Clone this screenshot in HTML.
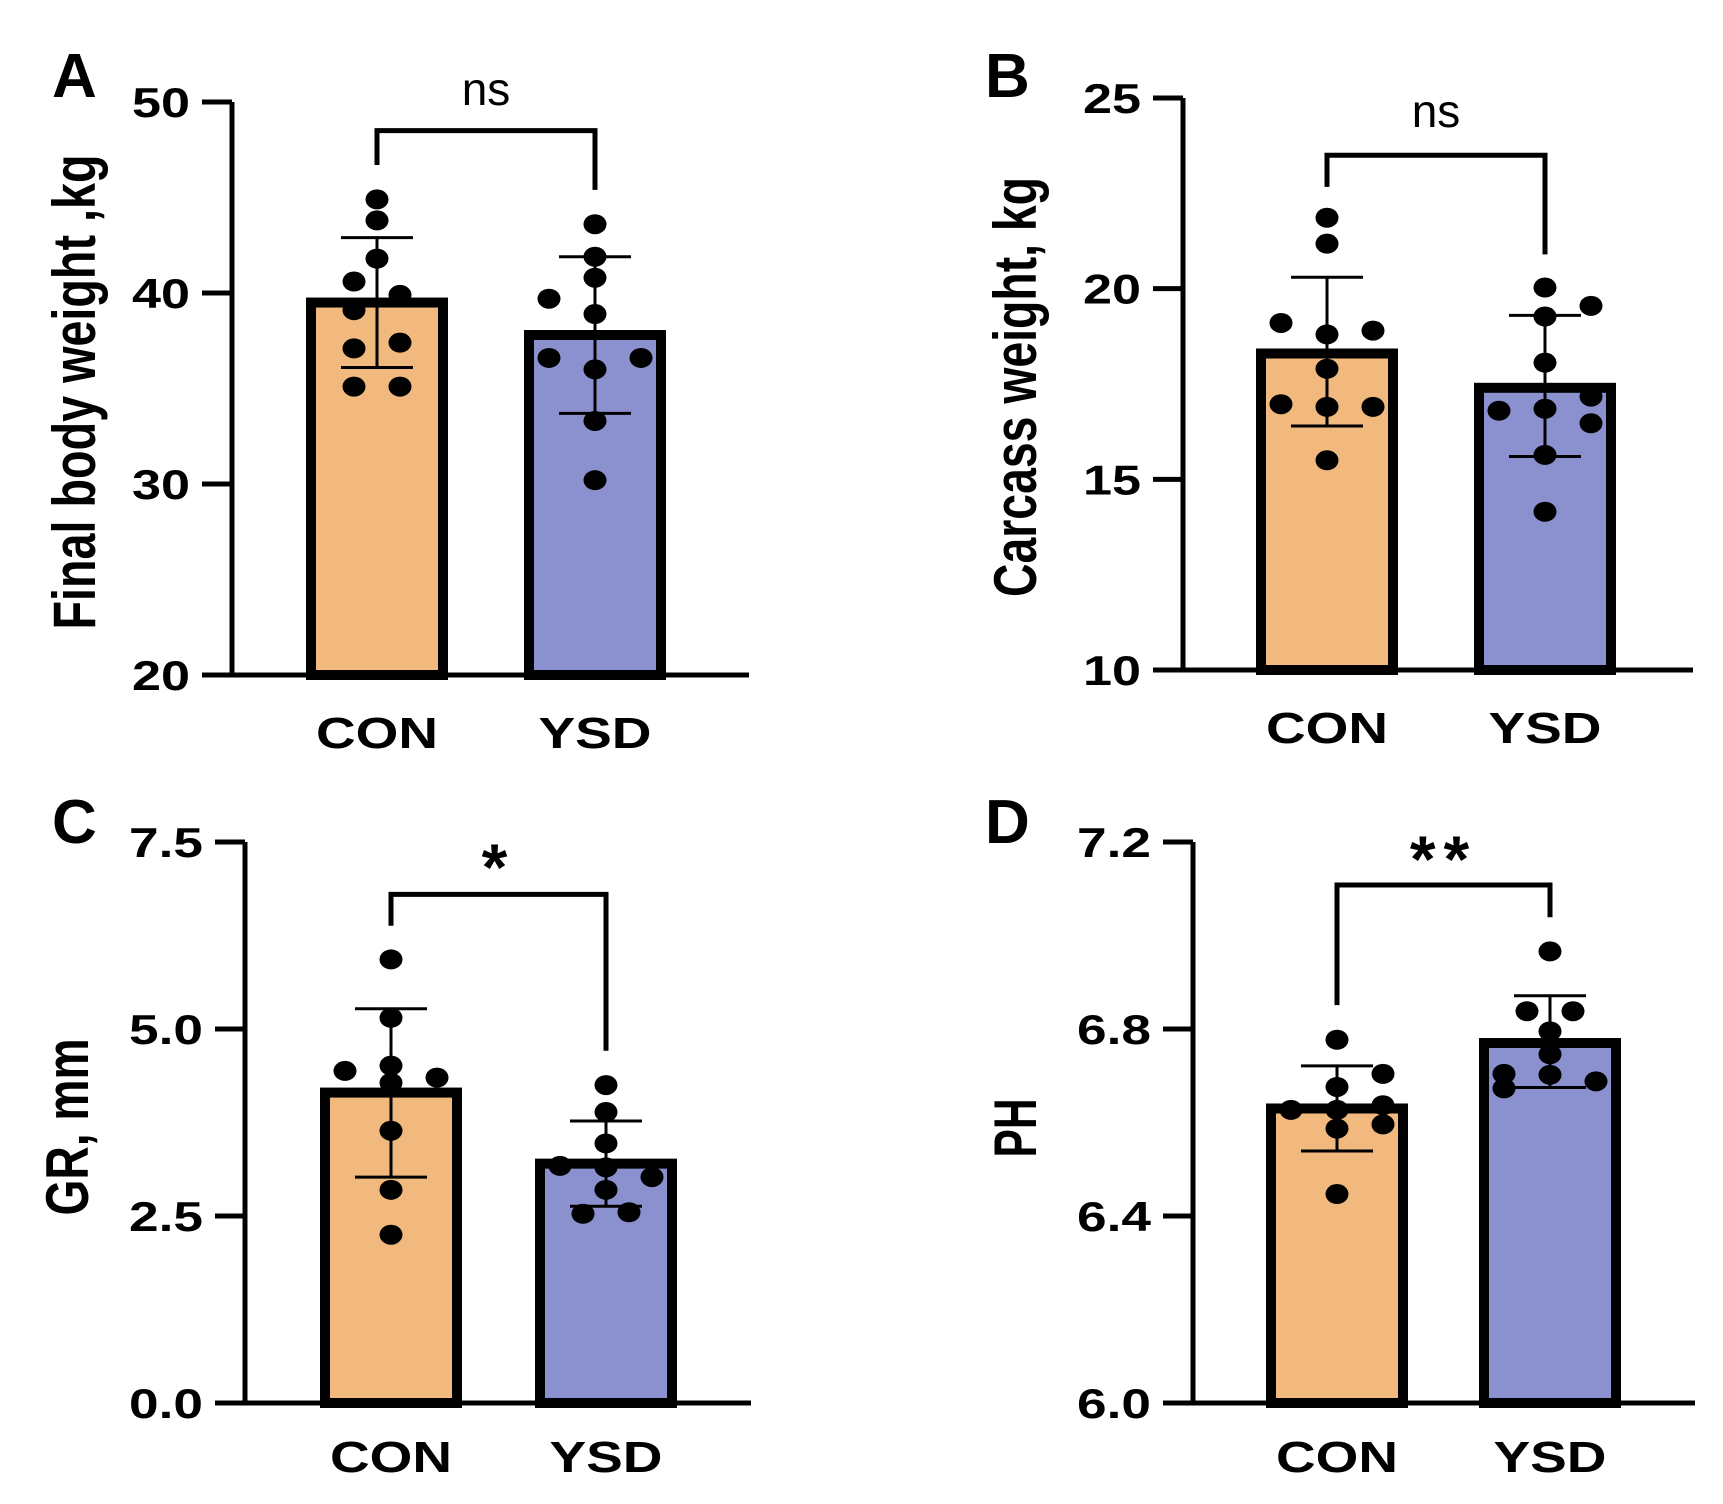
<!DOCTYPE html>
<html><head><meta charset="utf-8"><style>
html,body{margin:0;padding:0;background:#fff;}
svg{display:block;}
text{font-family:"Liberation Sans",Arial,sans-serif;fill:#000;}
</style></head><body>
<svg id="fig" width="1723" height="1504" viewBox="0 0 1723 1504" xmlns="http://www.w3.org/2000/svg"></svg>
<script>
// ---- data ----
const categories = ["CON", "YSD"];
// Panel A: Final body weight
const aTicks = [20, 30, 40, 50];
const aMeans = [39.5, 37.8];
const aSdHi = [42.9, 41.9];
const aSdLo = [36.1, 33.7];
const aConPts = [44.9, 43.8, 41.8, 40.6, 39.9, 39.1, 37.1, 37.4, 35.1, 35.1];
const aConJit = [0, 0, 0, -1, 1, -1, -1, 1, -1, 1];
const aYsdPts = [43.6, 41.9, 40.8, 39.7, 38.9, 36.6, 36.6, 36.0, 33.3, 30.2];
const aYsdJit = [0, 0, 0, -2, 0, -2, 2, 0, 0, 0];
const aBracket = [48.5, 46.7, 45.4];
// Panel B: Carcass weight
const bTicks = [10, 15, 20, 25];
const bMeans = [18.3, 17.4];
const bSdHi = [20.3, 19.3];
const bSdLo = [16.4, 15.6];
const bConPts = [21.86, 21.18, 19.1, 18.8, 18.9, 17.9, 16.97, 16.9, 16.9, 15.5];
const bConJit = [0, 0, -2, 0, 2, 0, -2, 0, 2, 0];
const bYsdPts = [20.03, 19.55, 19.27, 18.06, 17.17, 16.8, 16.85, 16.47, 15.64, 14.15];
const bYsdJit = [0, 2, 0, 0, 2, -2, 0, 2, 0, 0];
const bBracket = [23.5, 22.67, 20.9];
// Panel C: GR
const cTicks = [0, 2.5, 5.0, 7.5];
const cTickLabels = ["0.0", "2.5", "5.0", "7.5"];
const cMeans = [4.15, 3.2];
const cSdHi = [5.27, 3.77];
const cSdLo = [3.02, 2.63];
const cConPts = [5.93, 5.15, 4.44, 4.51, 4.35, 4.28, 3.64, 2.85, 2.25];
const cConJit = [0, 0, -2, 0, 2, 0, 0, 0, 0];
const cYsdPts = [4.25, 3.89, 3.47, 3.17, 3.15, 3.02, 2.85, 2.53, 2.55];
const cYsdJit = [0, 0, 0, -2, 0, 2, 0, -1, 1];
const cBracket = [6.8, 6.38, 4.71];
// Panel D: PH
const dTicks = [6.0, 6.4, 6.8, 7.2];
const dTickLabels = ["6.0", "6.4", "6.8", "7.2"];
const dMeans = [6.63, 6.77];
const dSdHi = [6.721, 6.871];
const dSdLo = [6.539, 6.675];
const dConPts = [6.777, 6.704, 6.676, 6.627, 6.627, 6.637, 6.596, 6.587, 6.447];
const dConJit = [0, 2, 0, -2, 0, 2, 2, 0, 0];
const dYsdPts = [6.966, 6.838, 6.838, 6.795, 6.746, 6.704, 6.702, 6.688, 6.673];
const dYsdJit = [0, -1, 1, 0, 0, -2, 0, 2, -2];
const dBracket = [7.108, 6.851, 7.039];

const NS = "http://www.w3.org/2000/svg";
const svg = document.getElementById('fig');
function mk(tag, attrs, parent) {
  const e = document.createElementNS(NS, tag);
  for (const k in attrs) e.setAttribute(k, attrs[k]);
  (parent || svg).appendChild(e);
  return e;
}
const COLORS = ["#F2B97E", "#8B91CE"];

function drawPanel(p) {
  const g = mk('g', {});
  
  
  const y = v => p.yBot - (v - p.min) / (p.max - p.min) * (p.yBot - p.yTop);
  const L = mk('text', {x: p.letterX, y: p.letterY, 'font-size': 62, 'font-weight': 'bold'}, g);
  L.textContent = p.letter;
  
  
  const yt = mk('text', {x: 0, y: 0, 'font-size': 60, 'font-weight': 'bold', 'text-anchor': 'middle',
    textLength: p.ytLen, lengthAdjust: 'spacingAndGlyphs',
    transform: `translate(${p.ytX},${p.ytY}) rotate(-90)`}, g);
  yt.textContent = p.yTitle;
  
  
  const halfW = 66;
  for (let i = 0; i < 2; i++) {
    const cx = p.cx[i];
    const top = y(p.means[i]);
    const r = mk('rect', {x: cx - halfW, y: top, width: halfW * 2, height: p.yBot - top,
      fill: COLORS[i], stroke: '#000', 'stroke-width': 10}, g);
    
    
  }
  const ax = mk('path', {d: `M${p.axisX},${p.yTop} V${p.yBot} H${p.xEnd}`, fill: 'none', stroke: '#000', 'stroke-width': 5}, g);
  
  
  p.ticks.forEach((t, i) => {
    const ty = y(t);
    const tk = mk('line', {x1: p.axisX - 30, x2: p.axisX, y1: ty, y2: ty, stroke: '#000', 'stroke-width': 5}, g);
    
    
    const lab = p.tickLabels ? p.tickLabels[i] : String(t);
    const tl = mk('text', {x: p.axisX - 42, y: ty + 15, 'font-size': 42, 'font-weight': 'bold', 'text-anchor': 'end',
      textLength: lab.length === 3 ? 74 : 58, lengthAdjust: 'spacingAndGlyphs'}, g);
    tl.textContent = lab;
    
    
  });
  for (let i = 0; i < 2; i++) {
    const cl = mk('text', {x: p.cx[i], y: p.catY, 'font-size': 44, 'font-weight': 'bold', 'text-anchor': 'middle',
      textLength: i === 0 ? 122 : 113, lengthAdjust: 'spacingAndGlyphs'}, g);
    cl.textContent = categories[i];
    
    
  }
  const sets = [[p.conPts, p.conJit], [p.ysdPts, p.ysdJit]];
  sets.forEach((s, i) => {
    s[0].forEach((v, j) => {
      const d = mk('ellipse', {cx: p.cx[i] + s[1][j] * 23, cy: y(v), rx: 11.5, ry: 10, fill: '#000'}, g);
      
      
    });
  });
  for (let i = 0; i < 2; i++) {
    const cx = p.cx[i], hi = y(p.sdHi[i]), lo = y(p.sdLo[i]);
    const eb = mk('path', {d: `M${cx},${hi} V${lo} M${cx - 36},${hi} H${cx + 36} M${cx - 36},${lo} H${cx + 36}`,
      fill: 'none', stroke: '#000', 'stroke-width': 3}, g);
    
    
  }
  const by = y(p.bracket[0]);
  const br = mk('path', {d: `M${p.cx[0]},${y(p.bracket[1])} V${by} H${p.cx[1]} V${y(p.bracket[2])}`,
    fill: 'none', stroke: '#000', 'stroke-width': 5}, g);
  
  
  const st = mk('text', {x: (p.cx[0] + p.cx[1]) / 2, y: p.sigY, 'font-size': p.sigSize,
    'font-weight': p.sig === 'ns' ? 'normal' : 'bold', 'text-anchor': 'middle'}, g);
  st.textContent = p.sig;
  if (p.sig !== 'ns') st.setAttribute('letter-spacing', '8');
  
  
}

drawPanel({letter: 'A', letterX: 52, letterY: 97, yTitle: 'Final body weight ,kg', ytX: 95, ytY: 392, ytLen: 475,
  min: 20, max: 50, ticks: aTicks, axisX: 232, yTop: 102, yBot: 675, xEnd: 749, cx: [377, 595], catY: 748,
  means: aMeans, sdHi: aSdHi, sdLo: aSdLo, conPts: aConPts, conJit: aConJit, ysdPts: aYsdPts, ysdJit: aYsdJit,
  bracket: aBracket, sig: 'ns', sigY: 105, sigSize: 46});
drawPanel({letter: 'B', letterX: 985, letterY: 97, yTitle: 'Carcass weight, kg', ytX: 1036, ytY: 387, ytLen: 420,
  min: 10, max: 25, ticks: bTicks, axisX: 1183, yTop: 98, yBot: 670, xEnd: 1693, cx: [1327, 1545], catY: 743,
  means: bMeans, sdHi: bSdHi, sdLo: bSdLo, conPts: bConPts, conJit: bConJit, ysdPts: bYsdPts, ysdJit: bYsdJit,
  bracket: bBracket, sig: 'ns', sigY: 127, sigSize: 46});
drawPanel({letter: 'C', letterX: 52, letterY: 843, yTitle: 'GR, mm', ytX: 88, ytY: 1127, ytLen: 177,
  min: 0, max: 7.5, ticks: cTicks, tickLabels: cTickLabels, axisX: 245, yTop: 842, yBot: 1403, xEnd: 751, cx: [391, 606], catY: 1472,
  means: cMeans, sdHi: cSdHi, sdLo: cSdLo, conPts: cConPts, conJit: cConJit, ysdPts: cYsdPts, ysdJit: cYsdJit,
  bracket: cBracket, sig: '*', sigY: 890, sigSize: 66});
drawPanel({letter: 'D', letterX: 985, letterY: 843, yTitle: 'PH', ytX: 1036, ytY: 1128, ytLen: 59,
  min: 6.0, max: 7.2, ticks: dTicks, tickLabels: dTickLabels, axisX: 1193, yTop: 842, yBot: 1403, xEnd: 1695, cx: [1337, 1550], catY: 1472,
  means: dMeans, sdHi: dSdHi, sdLo: dSdLo, conPts: dConPts, conJit: dConJit, ysdPts: dYsdPts, ysdJit: dYsdJit,
  bracket: dBracket, sig: '**', sigY: 882, sigSize: 66});
</script>
</body></html>
